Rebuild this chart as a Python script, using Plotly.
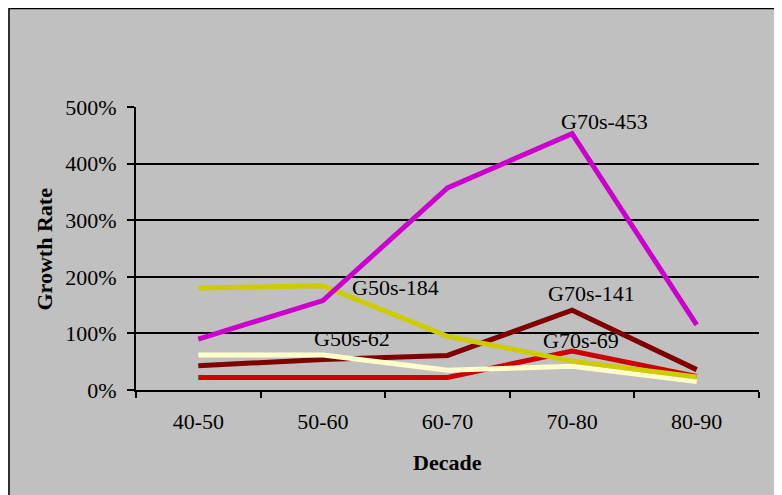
import plotly.graph_objects as go

decades = ["40-50", "50-60", "60-70", "70-80", "80-90"]
magenta_vals = [90, 158, 357, 453, 115]
maroon_vals = [43, 54, 61, 141, 36]
red_vals = [22, 22, 22, 69, 24]
yellow_vals = [180, 184, 95, 51, 23]
cream_vals = [62, 62, 35, 42, 15]
y_ticks = [0, 100, 200, 300, 400, 500]
y_tick_text = [f"{v}%" for v in y_ticks]

labels = [
    ("G70s-453", "70-80", 453, 32, 12),
    ("G50s-184", "50-60", 184, 73, -2),
    ("G50s-62", "50-60", 62, 29, 16),
    ("G70s-141", "70-80", 141, 19, 17),
    ("G70s-69", "70-80", 69, 9, 10),
]

FONT = "Liberation Serif, Times New Roman, serif"
W, H = 782, 495
L, R, T, B = 128, 31, 99, 113
pw, ph = W - L - R, H - T - B

fig = go.Figure()
series = [
    (maroon_vals, "#800000"),
    (red_vals, "#CC0000"),
    (cream_vals, "#FFFFCC"),
    (yellow_vals, "#CCCC00"),
    (magenta_vals, "#CC00CC"),
]
for vals, col in series:
    fig.add_trace(go.Scatter(x=decades, y=vals, mode="lines",
                             line=dict(color=col, width=5), showlegend=False,
                             hoverinfo="skip"))

for txt, xc, yv, xs, ys in labels:
    fig.add_annotation(x=xc, y=yv, text=txt, showarrow=False, xshift=xs, yshift=ys,
                       font=dict(family=FONT, size=22, color="black"),
                       xanchor="center", yanchor="middle")

def px_x(p):
    return (p - L) / pw

def px_y(p):
    return (H - B - p) / ph

fig.add_shape(type="rect", xref="paper", yref="paper",
              x0=px_x(1), x1=px_x(900), y0=px_y(700), y1=px_y(0.5),
              fillcolor="#C0C0C0", line=dict(color="black", width=1.5), layer="below")

fig.add_annotation(xref="paper", yref="paper", x=px_x(36), y=0.5, text="<b>Growth Rate</b>",
                   textangle=-90, showarrow=False, xanchor="center", yanchor="middle",
                   font=dict(family=FONT, size=22, color="black"))
fig.add_annotation(xref="paper", yref="paper", x=0.5, y=px_y(454), text="<b>Decade</b>",
                   showarrow=False, xanchor="center", yanchor="middle",
                   font=dict(family=FONT, size=22, color="black"))

fig.update_layout(
    width=W, height=H,
    margin=dict(l=L, r=R, t=T, b=B),
    paper_bgcolor="#C0C0C0",
    plot_bgcolor="#C0C0C0",
    font=dict(family=FONT, size=22, color="black"),
    xaxis=dict(type="category", range=[-0.5, 4.5], showgrid=False, showline=True,
               linecolor="black", linewidth=2, ticks="outside", tickson="boundaries",
               ticklen=6, tickwidth=2, tickcolor="black", zeroline=False,
               tickfont=dict(family=FONT, size=22), fixedrange=True,
               ticklabelstandoff=11),
    yaxis=dict(range=[0, 500], tickmode="array", tickvals=y_ticks, ticktext=y_tick_text,
               showgrid=True, gridcolor="black", gridwidth=2, showline=True, linecolor="black",
               linewidth=2, ticks="outside", ticklen=7, tickwidth=2, tickcolor="black",
               zeroline=False, tickfont=dict(family=FONT, size=22), fixedrange=True,
               ticklabelstandoff=6),
)

fig.write_html("out.html")
